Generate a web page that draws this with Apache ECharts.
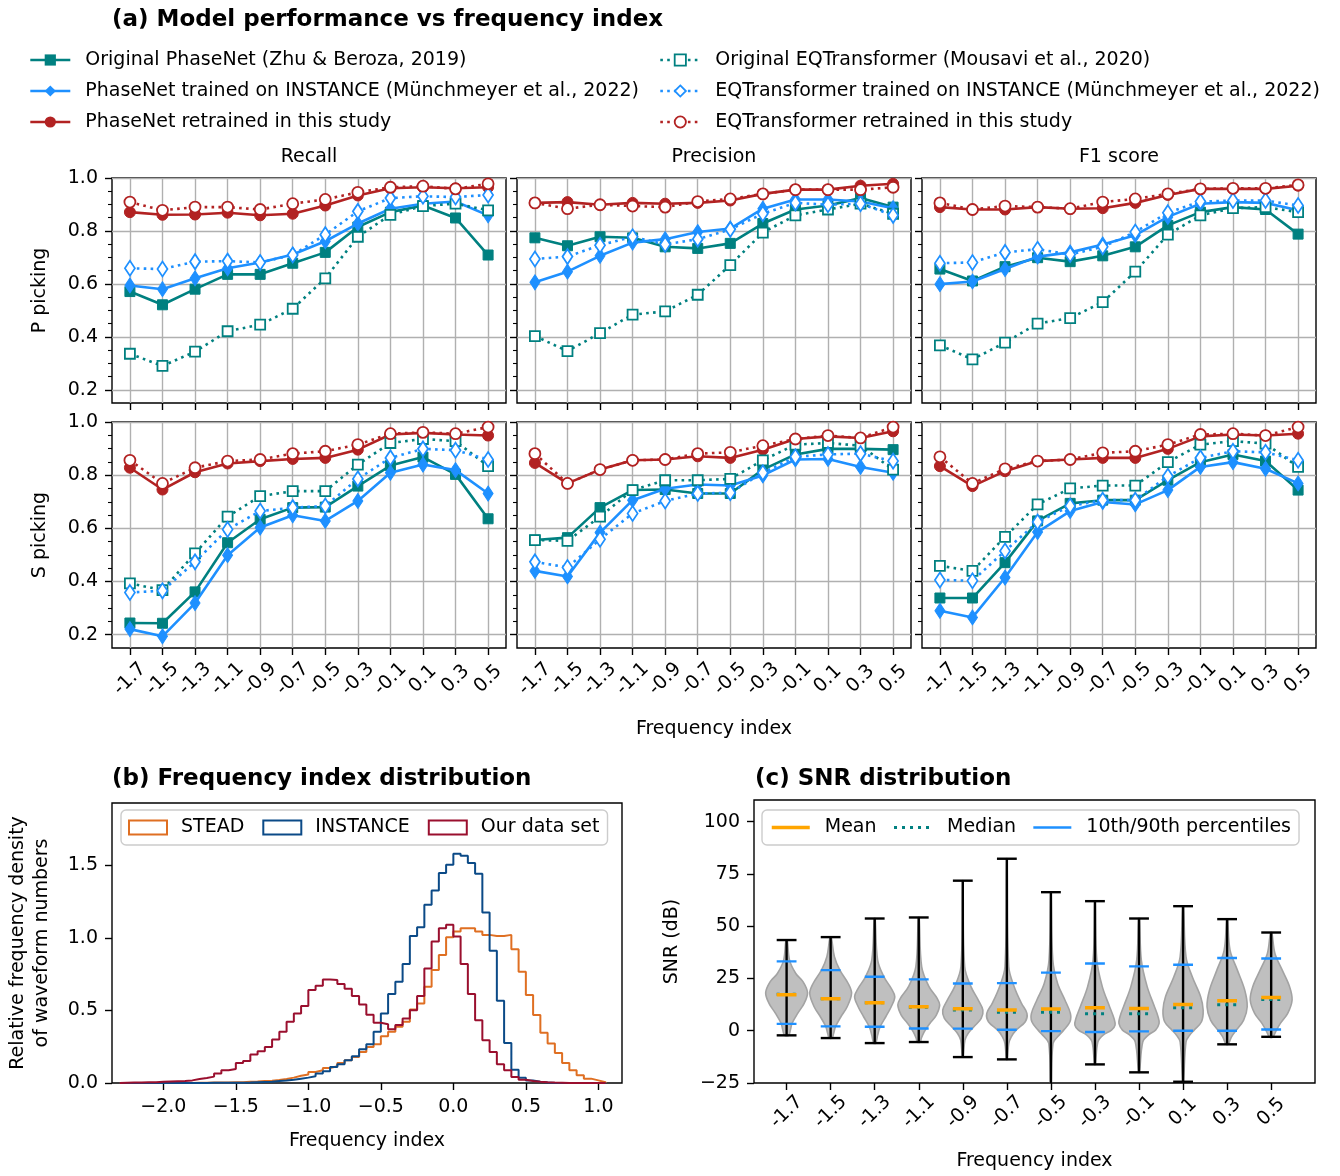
<!DOCTYPE html>
<html><head><meta charset="utf-8">
<script src="https://cdn.jsdelivr.net/npm/echarts@6/dist/echarts.min.js"></script>
<style>html,body{margin:0;padding:0;background:#fff}#chart{width:1340px;height:1176px}</style>
</head><body><div id="chart"></div>
<script>
// ---------------- DATA ----------------
const FREQ = [-1.7,-1.5,-1.3,-1.1,-0.9,-0.7,-0.5,-0.3,-0.1,0.1,0.3,0.5];
const FREQ_LABELS = ['-1.7','-1.5','-1.3','-1.1','-0.9','-0.7','-0.5','-0.3','-0.1','0.1','0.3','0.5'];
const MODEL_NAMES = [
  'Original PhaseNet (Zhu & Beroza, 2019)',
  'PhaseNet trained on INSTANCE (Münchmeyer et al., 2022)',
  'PhaseNet retrained in this study',
  'Original EQTransformer (Mousavi et al., 2020)',
  'EQTransformer trained on INSTANCE (Münchmeyer et al., 2022)',
  'EQTransformer retrained in this study'
];
const METRIC_TITLES = ['Recall','Precision','F1 score'];
const PHASE_LABELS = ['P picking','S picking'];
const SCORE_TICKS = [0.2,0.4,0.6,0.8,1.0];
const SCORE_MINOR_TICKS = [0.25,0.3,0.35,0.45,0.5,0.55,0.65,0.7,0.75,0.85,0.9,0.95];

// rows: orig PN, PN INSTANCE, PN retrained, orig EQT, EQT INSTANCE, EQT retrained
const P_RECALL = [
  [0.571,0.521,0.580,0.636,0.636,0.678,0.719,0.815,0.871,0.896,0.849,0.709],
  [0.594,0.580,0.621,0.659,0.681,0.711,0.761,0.828,0.884,0.903,0.911,0.859],
  [0.871,0.861,0.862,0.869,0.859,0.865,0.896,0.934,0.961,0.965,0.961,0.965],
  [0.336,0.290,0.344,0.421,0.446,0.506,0.621,0.778,0.861,0.894,0.903,0.878],
  [0.659,0.656,0.684,0.686,0.681,0.709,0.786,0.874,0.924,0.931,0.928,0.936],
  [0.909,0.878,0.890,0.890,0.881,0.903,0.919,0.946,0.965,0.969,0.959,0.978]
];
const P_PRECISION = [
  [0.774,0.744,0.778,0.774,0.740,0.734,0.753,0.828,0.881,0.896,0.924,0.890],
  [0.606,0.646,0.706,0.756,0.769,0.796,0.809,0.884,0.919,0.919,0.911,0.886],
  [0.906,0.909,0.899,0.906,0.903,0.906,0.915,0.940,0.956,0.956,0.971,0.978],
  [0.403,0.346,0.414,0.484,0.496,0.559,0.671,0.794,0.859,0.881,0.903,0.865],
  [0.694,0.703,0.746,0.778,0.749,0.769,0.806,0.865,0.906,0.899,0.903,0.859],
  [0.906,0.884,0.899,0.894,0.890,0.911,0.921,0.940,0.956,0.956,0.956,0.965]
];
const P_F1 = [
  [0.656,0.611,0.665,0.699,0.684,0.706,0.740,0.821,0.871,0.890,0.881,0.788],
  [0.599,0.609,0.656,0.703,0.719,0.749,0.784,0.853,0.903,0.909,0.906,0.878],
  [0.890,0.881,0.881,0.890,0.884,0.886,0.906,0.936,0.959,0.959,0.959,0.971],
  [0.368,0.315,0.378,0.450,0.471,0.531,0.646,0.786,0.859,0.886,0.890,0.871],
  [0.678,0.681,0.719,0.731,0.711,0.740,0.796,0.869,0.911,0.915,0.915,0.896],
  [0.906,0.881,0.894,0.890,0.884,0.909,0.921,0.940,0.959,0.961,0.961,0.974]
];
const S_RECALL = [
  [0.244,0.243,0.361,0.546,0.634,0.678,0.680,0.759,0.836,0.868,0.803,0.636],
  [0.221,0.194,0.319,0.499,0.603,0.649,0.628,0.703,0.809,0.840,0.819,0.731],
  [0.828,0.746,0.811,0.844,0.853,0.861,0.865,0.896,0.953,0.959,0.953,0.949],
  [0.393,0.368,0.506,0.644,0.721,0.740,0.740,0.840,0.921,0.936,0.928,0.834],
  [0.359,0.365,0.474,0.596,0.665,0.678,0.684,0.786,0.865,0.899,0.894,0.859],
  [0.856,0.769,0.828,0.853,0.859,0.881,0.890,0.915,0.956,0.961,0.956,0.981]
];
const S_PRECISION = [
  [0.556,0.565,0.678,0.744,0.746,0.731,0.731,0.821,0.878,0.899,0.899,0.896],
  [0.440,0.419,0.584,0.706,0.749,0.765,0.761,0.799,0.859,0.861,0.831,0.809],
  [0.846,0.769,0.821,0.856,0.859,0.871,0.865,0.896,0.936,0.946,0.940,0.965],
  [0.556,0.553,0.644,0.744,0.781,0.781,0.786,0.856,0.915,0.921,0.911,0.821],
  [0.474,0.453,0.559,0.656,0.703,0.731,0.734,0.809,0.869,0.878,0.881,0.853],
  [0.881,0.769,0.821,0.856,0.859,0.881,0.886,0.911,0.936,0.949,0.940,0.981]
];
const S_F1 = [
  [0.338,0.338,0.471,0.628,0.694,0.706,0.706,0.781,0.849,0.878,0.853,0.744],
  [0.290,0.265,0.415,0.586,0.665,0.699,0.690,0.744,0.831,0.849,0.824,0.769],
  [0.834,0.759,0.815,0.853,0.859,0.865,0.865,0.899,0.946,0.953,0.949,0.956],
  [0.459,0.440,0.568,0.690,0.750,0.761,0.761,0.849,0.915,0.928,0.919,0.831],
  [0.406,0.403,0.515,0.624,0.684,0.706,0.706,0.796,0.865,0.890,0.886,0.856],
  [0.869,0.769,0.824,0.853,0.859,0.884,0.890,0.915,0.953,0.956,0.949,0.981]
];

// (b) histogram: bins of width 0.05 starting at -2.30
const HIST_BIN_START = -2.3;
const HIST_BIN_WIDTH = 0.05;
const HIST_NAMES = ['STEAD','INSTANCE','Our data set'];
const HIST_STEAD = [0,0,0,0,0,0,0,0,0,0,
  0.002,0.002,0.003,0.003,0.004,0.005,0.006,0.008,0.010,0.013,
  0.016,0.020,0.028,0.037,0.050,0.058,0.076,0.088,0.104,0.115,
  0.138,0.157,0.180,0.214,0.249,0.267,0.323,0.353,0.387,0.422,
  0.507,0.548,0.664,0.779,0.882,1.005,1.044,1.067,1.067,1.044,
  1.021,1.014,1.014,1.021,0.922,0.767,0.606,0.468,0.346,0.272,
  0.207,0.138,0.088,0.053,0.030,0.018,0.005];
const HIST_INSTANCE = [0,0,0,0,0,0,0,0,0,0,
  0,0,0.001,0.001,0.002,0.002,0.002,0.003,0.005,0.007,
  0.009,0.014,0.018,0.023,0.030,0.037,0.046,0.065,0.081,0.110,
  0.129,0.157,0.184,0.233,0.267,0.353,0.479,0.613,0.698,0.820,
  1.014,1.074,1.228,1.327,1.447,1.505,1.581,1.567,1.516,1.442,
  1.175,0.912,0.567,0.276,0.092,0.037,0.018,0.009,0.004,0,
  0,0,0,0,0,0,0];
const HIST_OURS = [0.002,0.003,0.004,0.005,0.006,0.008,0.010,0.012,0.014,0.018,
  0.028,0.035,0.044,0.065,0.088,0.097,0.138,0.152,0.196,0.219,
  0.249,0.300,0.353,0.422,0.479,0.530,0.641,0.671,0.714,0.710,
  0.682,0.650,0.599,0.541,0.470,0.415,0.405,0.371,0.399,0.445,
  0.502,0.599,0.790,0.975,1.067,1.090,1.009,0.820,0.613,0.433,
  0.295,0.214,0.129,0.088,0.041,0.023,0.014,0.009,0.005,0.003,
  0.002,0,0,0,0,0,0];
const HIST_X_TICKS = [-2,-1.5,-1,-0.5,0,0.5,1];
const HIST_Y_TICKS = [0,0.5,1,1.5];

// (c) SNR distribution per frequency-index bin (dB)
const SNR_MAX    = [43.4,44.8,53.7,54.2,71.8,82.3,66.3,62.0,53.7,59.6,53.4,47.0];
const SNR_MIN    = [-2.2,-3.5,-5.9,-5.4,-12.6,-13.7,-28.0,-16.1,-19.9,-24.4,-6.5,-2.9];
const SNR_P90    = [33.2,29.0,25.8,24.6,22.6,22.8,27.8,32.2,30.8,31.6,34.8,34.6];
const SNR_P10    = [3.3,2.1,1.9,1.1,1.0,0.5,-0.2,-0.6,-0.3,0.0,0.0,0.6];
const SNR_MEAN   = [17.2,15.3,13.4,11.5,10.5,9.9,10.4,11.0,10.7,12.6,14.4,15.9];
const SNR_MEDIAN = [17.5,15.3,13.4,11.2,9.9,8.8,8.8,8.1,8.1,11.0,12.4,15.0];
// violin outlines: [SNR dB, relative density]
const VIOLIN_PROFILES = [
  [[43.4,0.03],[33.8,0.14],[27.4,0.44],[23.4,0.79],[18.2,1.0],[13.1,0.84],[8.3,0.53],[3.5,0.26],[0.3,0.18],[-2.2,0.10]],
  [[44.8,0.03],[35.4,0.18],[29.0,0.44],[22.6,0.84],[17.9,1.0],[11.5,0.79],[6.7,0.49],[1.9,0.23],[-1.3,0.14],[-3.5,0.07]],
  [[53.7,0.02],[33.8,0.14],[25.8,0.44],[20.3,0.79],[16.3,0.96],[11.5,0.79],[6.7,0.53],[1.9,0.26],[-2.1,0.14],[-5.9,0.05]],
  [[54.2,0.02],[30.6,0.14],[21.1,0.49],[15.5,0.88],[12.3,1.0],[7.5,0.84],[3.5,0.53],[-0.5,0.26],[-3.7,0.12],[-5.4,0.07]],
  [[71.8,0.01],[30.6,0.09],[21.1,0.39],[14.7,0.74],[9.9,0.96],[5.9,0.88],[1.9,0.53],[-1.3,0.25],[-4.5,0.10],[-12.6,0.02]],
  [[82.3,0.01],[30.6,0.09],[21.1,0.35],[13.1,0.70],[8.3,0.96],[4.3,0.88],[0.3,0.44],[-2.9,0.21],[-6.1,0.09],[-13.7,0.02]],
  [[66.3,0.01],[33.8,0.09],[22.6,0.32],[14.7,0.67],[8.3,0.93],[4.3,0.91],[0.3,0.61],[-2.9,0.32],[-6.1,0.10],[-28.0,0.01]],
  [[62.0,0.01],[33.8,0.09],[21.1,0.35],[11.5,0.70],[5.9,0.91],[2.7,0.96],[0.3,0.79],[-2.1,0.39],[-5.3,0.14],[-16.1,0.02]],
  [[53.7,0.02],[33.8,0.11],[21.1,0.39],[11.5,0.74],[6.7,0.91],[3.5,0.96],[0.3,0.79],[-2.1,0.44],[-5.3,0.18],[-19.9,0.02]],
  [[59.6,0.02],[35.4,0.14],[25.8,0.44],[16.3,0.84],[9.9,0.96],[4.3,0.88],[0.3,0.53],[-2.1,0.32],[-5.3,0.14],[-24.4,0.02]],
  [[53.4,0.02],[38.6,0.14],[29.0,0.49],[19.5,0.84],[11.5,0.96],[5.1,0.79],[0.3,0.44],[-2.9,0.21],[-6.5,0.05]],
  [[47.0,0.03],[37.0,0.18],[29.0,0.53],[21.1,0.88],[14.7,1.0],[8.3,0.79],[3.5,0.44],[-0.5,0.21],[-2.9,0.09]]
];
const SNR_TICKS = [-25,0,25,50,75,100];
const SNR_LEGEND = ['Mean','Median','10th/90th percentiles'];

// ---------------- STYLE ----------------
const FONT = 'DejaVu Sans';
const MODEL_COLORS = ['#008080','#1e90ff','#b22222','#008080','#1e90ff','#b22222'];
const MODEL_SYMBOLS = ['rect','diamond','circle','rect','diamond','circle'];
const HIST_COLORS = ['#df6f22','#0b4a87','#9a0f2e'];
const GRID_COLOR = '#b0b0b0';
const txt = (size, extra) => Object.assign({fontSize:size, fontFamily:FONT, color:'#000'}, extra || {});
const fmtFreq = v => { const i = FREQ.findIndex(f => Math.abs(f - v) < 1e-9); return i >= 0 ? FREQ_LABELS[i] : ''; };
const fmtMinus = (v, d) => (v < 0 ? '\u2212' : '') + Math.abs(v).toFixed(d);

const grids = [], xAxes = [], yAxes = [], series = [];
const PANELS = [P_RECALL, P_PRECISION, P_F1, S_RECALL, S_PRECISION, S_F1];
const PANEL_LEFT = [112, 517, 922], PANEL_TOP = [178, 422], PANEL_H = [225, 226], PANEL_W = 394;

PANELS.forEach((panel, p) => {
  const row = Math.floor(p / 3), col = p % 3;
  grids.push({left: PANEL_LEFT[col], top: PANEL_TOP[row], width: PANEL_W, height: PANEL_H[row],
    show: true, borderColor: '#000', borderWidth: 1.4, backgroundColor: 'transparent',
    containLabel: false, outerBoundsMode: 'none'});
  xAxes.push({type: 'value', gridIndex: p, min: -1.81, max: 0.61, position: 'bottom',
    axisLine: {show: false, onZero: false},
    axisTick: {show: true, customValues: FREQ, length: 7, lineStyle: {color: '#000', width: 1.4}},
    axisLabel: {show: row === 1, customValues: FREQ, formatter: fmtFreq, rotate: 45, align: 'center',
      verticalAlign: 'middle', margin: 31, hideOverlap: false, ...txt(19)},
    splitLine: {show: true, lineStyle: {color: GRID_COLOR, width: 1.4}},
    name: p === 4 ? 'Frequency index' : '', nameLocation: 'middle', nameGap: 72,
    nameMoveOverlap: false, nameTextStyle: txt(19)});
  yAxes.push({type: 'value', gridIndex: p, min: 0.15, max: 1.0, position: 'left',
    axisLine: {show: false, onZero: false},
    axisTick: {show: true, customValues: SCORE_TICKS, length: 7, lineStyle: {color: '#000', width: 1.4}},
    axisLabel: {show: col === 0, customValues: SCORE_TICKS, formatter: v => v.toFixed(1), margin: 14, ...txt(19)},
    splitLine: {show: true, lineStyle: {color: GRID_COLOR, width: 1.4}},
    name: col === 0 ? PHASE_LABELS[row] : '', nameLocation: 'middle', nameGap: 62,
    nameMoveOverlap: false, nameTextStyle: txt(19)});
  yAxes.push({type: 'value', gridIndex: p, min: 0.15, max: 1.0, position: 'left',
    axisLine: {show: false, onZero: false},
    axisTick: {show: true, customValues: SCORE_MINOR_TICKS, length: 4, lineStyle: {color: '#000', width: 1.1}},
    axisLabel: {show: false}, splitLine: {show: false}});
  panel.forEach((vals, m) => {
    const c = MODEL_COLORS[m], open = m >= 3, kind = m % 3;
    series.push({type: 'line', name: MODEL_NAMES[m], xAxisIndex: p, yAxisIndex: 2 * p,
      data: FREQ.map((x, i) => [x, vals[i]]),
      symbol: MODEL_SYMBOLS[m], symbolSize: kind === 1 ? [10, 15] : (kind === 0 ? 10 : 11),
      showSymbol: true, showAllSymbol: true, z: 3 + m, clip: false, animation: false,
      lineStyle: {color: c, width: 2.6, type: open ? [2.6, 4.3] : 'solid', cap: 'butt'},
      itemStyle: {color: open ? '#fff' : c, borderColor: c, borderWidth: open ? 1.8 : 1},
      emphasis: {disabled: true}});
  });
});

// (b) histogram grid
grids.push({left: 112, top: 803, width: 510, height: 280, show: true, borderColor: '#000', borderWidth: 1.4,
  backgroundColor: 'transparent', containLabel: false, outerBoundsMode: 'none'});
xAxes.push({type: 'value', gridIndex: 6, min: -2.354, max: 1.163, position: 'bottom',
  axisLine: {show: false, onZero: false},
  axisTick: {show: true, customValues: HIST_X_TICKS, length: 7, lineStyle: {color: '#000', width: 1.4}},
  axisLabel: {customValues: HIST_X_TICKS, formatter: v => fmtMinus(v, 1), margin: 15, ...txt(19)},
  splitLine: {show: false}, name: 'Frequency index', nameLocation: 'middle', nameGap: 49,
  nameMoveOverlap: false, nameTextStyle: txt(19)});
yAxes.push({type: 'value', gridIndex: 6, min: 0, max: 1.93, position: 'left',
  axisLine: {show: false, onZero: false},
  axisTick: {show: true, customValues: HIST_Y_TICKS, length: 7, lineStyle: {color: '#000', width: 1.4}},
  axisLabel: {customValues: HIST_Y_TICKS, formatter: v => v.toFixed(1), margin: 14, ...txt(19)},
  splitLine: {show: false}, name: 'Relative frequency density\nof waveform numbers', nameLocation: 'middle',
  nameGap: 58, nameMoveOverlap: false, nameTextStyle: txt(19, {lineHeight: 24})});
[HIST_STEAD, HIST_INSTANCE, HIST_OURS].forEach((vals, h) => {
  const pts = [[HIST_BIN_START, 0]];
  vals.forEach((v, k) => pts.push([HIST_BIN_START + k * HIST_BIN_WIDTH, v]));
  pts.push([HIST_BIN_START + vals.length * HIST_BIN_WIDTH, 0]);
  series.push({type: 'line', name: HIST_NAMES[h], xAxisIndex: 6, yAxisIndex: 12, data: pts, step: 'end',
    symbol: 'none', z: 3 + h, animation: false, lineStyle: {color: HIST_COLORS[h], width: 2},
    itemStyle: {color: HIST_COLORS[h]}, emphasis: {disabled: true}});
});

// (c) SNR violin grid
grids.push({left: 754, top: 800, width: 561, height: 283, show: true, borderColor: '#000', borderWidth: 1.4,
  backgroundColor: 'transparent', containLabel: false, outerBoundsMode: 'none'});
xAxes.push({type: 'value', gridIndex: 7, min: -1.848, max: 0.699, position: 'bottom',
  axisLine: {show: false, onZero: false},
  axisTick: {show: true, customValues: FREQ, length: 7, lineStyle: {color: '#000', width: 1.4}},
  axisLabel: {customValues: FREQ, formatter: fmtFreq, rotate: 45, align: 'center', verticalAlign: 'middle',
    margin: 29, hideOverlap: false, ...txt(19)},
  splitLine: {show: false}, name: 'Frequency index', nameLocation: 'middle', nameGap: 69,
  nameMoveOverlap: false, nameTextStyle: txt(19)});
yAxes.push({type: 'value', gridIndex: 7, min: -25, max: 110.4, position: 'left',
  axisLine: {show: false, onZero: false},
  axisTick: {show: true, customValues: SNR_TICKS, length: 7, lineStyle: {color: '#000', width: 1.4}},
  axisLabel: {customValues: SNR_TICKS, formatter: v => fmtMinus(v, 0), margin: 14, ...txt(19)},
  splitLine: {show: false}, name: 'SNR (dB)', nameLocation: 'middle', nameGap: 72,
  nameMoveOverlap: false, nameTextStyle: txt(19)});

const VIOLIN_HALF = 0.095, CAP_HALF = 0.045, MARK_HALF = 0.045;
const snrData = FREQ.map((x, i) => [x, SNR_MIN[i], SNR_MAX[i]]);
series.push({type: 'custom', name: 'violins', xAxisIndex: 7, yAxisIndex: 13, data: snrData,
  encode: {x: 0, y: [1, 2]}, clip: true, z: 2, animation: false, silent: true,
  renderItem: (params, api) => {
    const i = params.dataIndex, xc = api.value(0), prof = VIOLIN_PROFILES[i];
    const right = prof.map(([db, w]) => api.coord([xc + w * VIOLIN_HALF, db]));
    const left = prof.slice().reverse().map(([db, w]) => api.coord([xc - w * VIOLIN_HALF, db]));
    return {type: 'polygon', shape: {points: right.concat(left), smooth: 0.35},
      style: {fill: '#bfbfbf', stroke: '#a3a3a3', lineWidth: 1.6}};
  }});
series.push({type: 'custom', name: 'whiskers', xAxisIndex: 7, yAxisIndex: 13, data: snrData,
  encode: {x: 0, y: [1, 2]}, clip: true, z: 3, animation: false, silent: true,
  renderItem: (params, api) => {
    const xc = api.value(0), lo = api.value(1), hi = api.value(2);
    const a = api.coord([xc, lo]), b = api.coord([xc, hi]);
    const cl0 = api.coord([xc - CAP_HALF, lo]), cl1 = api.coord([xc + CAP_HALF, lo]);
    const ch0 = api.coord([xc - CAP_HALF, hi]), ch1 = api.coord([xc + CAP_HALF, hi]);
    const st = {stroke: '#000', lineWidth: 2.4};
    return {type: 'group', children: [
      {type: 'line', shape: {x1: a[0], y1: a[1], x2: b[0], y2: b[1]}, style: st},
      {type: 'line', shape: {x1: cl0[0], y1: cl0[1], x2: cl1[0], y2: cl1[1]}, style: st},
      {type: 'line', shape: {x1: ch0[0], y1: ch0[1], x2: ch1[0], y2: ch1[1]}, style: st}]};
  }});
const segs = (arrs, half) => {
  const out = [];
  arrs.forEach(arr => FREQ.forEach((x, i) => { out.push([x - half, arr[i]], [x + half, arr[i]], [x, '-']); }));
  return out;
};
const SNR_MARK_STYLES = [
  {color: '#ffa500', width: 3.5, type: 'solid'},
  {color: '#008080', width: 3, type: [3, 5]},
  {color: '#1e90ff', width: 2.4, type: 'solid'}
];
[[SNR_MEAN], [SNR_MEDIAN], [SNR_P10, SNR_P90]].forEach((arrs, k) => {
  const ls = SNR_MARK_STYLES[k];
  series.push({type: 'line', name: SNR_LEGEND[k], xAxisIndex: 7, yAxisIndex: 13,
    data: segs(arrs, k === 2 ? CAP_HALF : MARK_HALF), connectNulls: false, symbol: 'none', clip: true,
    z: 6 - k, animation: false, lineStyle: {color: ls.color, width: ls.width, type: ls.type, cap: 'butt'},
    itemStyle: {color: ls.color}, emphasis: {disabled: true}});
});

// ---------------- LEGENDS ----------------
const legendText = txt(19, {lineHeight: 19, padding: [0, 0, 0, 10]});
const modelLegendItem = m => ({name: MODEL_NAMES[m],
  itemStyle: m >= 3 ? {color: '#fff', borderColor: MODEL_COLORS[m], borderWidth: 1.8} : {color: MODEL_COLORS[m], borderWidth: 0},
  lineStyle: {color: MODEL_COLORS[m], width: 2.6, type: m >= 3 ? [2.6, 4.3] : 'solid'}});
const legends = [
  {left: 29, top: 50.5, orient: 'vertical', selectedMode: false, itemWidth: 40, itemHeight: 14, itemGap: 12,
    padding: 0, textStyle: legendText, data: [0, 1, 2].map(modelLegendItem)},
  {left: 659, top: 50.5, orient: 'vertical', selectedMode: false, itemWidth: 40, itemHeight: 14, itemGap: 12,
    padding: 0, textStyle: legendText, data: [3, 4, 5].map(modelLegendItem)},
  {left: 121, top: 810, orient: 'horizontal', selectedMode: false, itemWidth: 38, itemHeight: 14, itemGap: 18,
    padding: [7, 8, 7, 7], borderColor: '#cccccc', borderWidth: 1.4, borderRadius: 5, backgroundColor: '#fff',
    textStyle: txt(19, {lineHeight: 21, padding: [0, 0, 0, 9]}),
    data: HIST_NAMES.map((n, h) => ({name: n, icon: 'rect',
      itemStyle: {color: '#fff', borderColor: HIST_COLORS[h], borderWidth: 2}}))},
  {left: 762, top: 810, orient: 'horizontal', selectedMode: false, itemWidth: 38, itemHeight: 14, itemGap: 16,
    padding: [7, 8, 7, 8], borderColor: '#cccccc', borderWidth: 1.4, borderRadius: 5, backgroundColor: '#fff',
    textStyle: txt(19, {lineHeight: 21, padding: [0, 0, 0, 10]}),
    data: SNR_LEGEND.map((n, k) => ({name: n, itemStyle: {opacity: 0},
      lineStyle: {color: SNR_MARK_STYLES[k].color, width: SNR_MARK_STYLES[k].width, type: SNR_MARK_STYLES[k].type}}))}
];

// ---------------- TITLES ----------------
const boldTitle = (text, x, y) => ({type: 'text', x: x, y: y, silent: true,
  style: {text: text, fontSize: 23, fontWeight: 'bold', fontFamily: FONT, fill: '#000', align: 'left', verticalAlign: 'middle'}});
const graphics = [
  boldTitle('(a) Model performance vs frequency index', 112, 20),
  boldTitle('(b) Frequency index distribution', 112, 779),
  boldTitle('(c) SNR distribution', 755, 779)
].concat(METRIC_TITLES.map((t, c) => ({type: 'text', x: PANEL_LEFT[c] + PANEL_W / 2, y: 157, silent: true,
  style: {text: t, fontSize: 19, fontFamily: FONT, fill: '#000', align: 'center', verticalAlign: 'middle'}})));

const chart = echarts.init(document.getElementById('chart'), null, {renderer: 'canvas'});
chart.setOption({
  animation: false,
  backgroundColor: '#fff',
  textStyle: {fontFamily: FONT, color: '#000'},
  grid: grids, xAxis: xAxes, yAxis: yAxes, series: series, legend: legends, graphic: graphics
});
</script></body></html>
